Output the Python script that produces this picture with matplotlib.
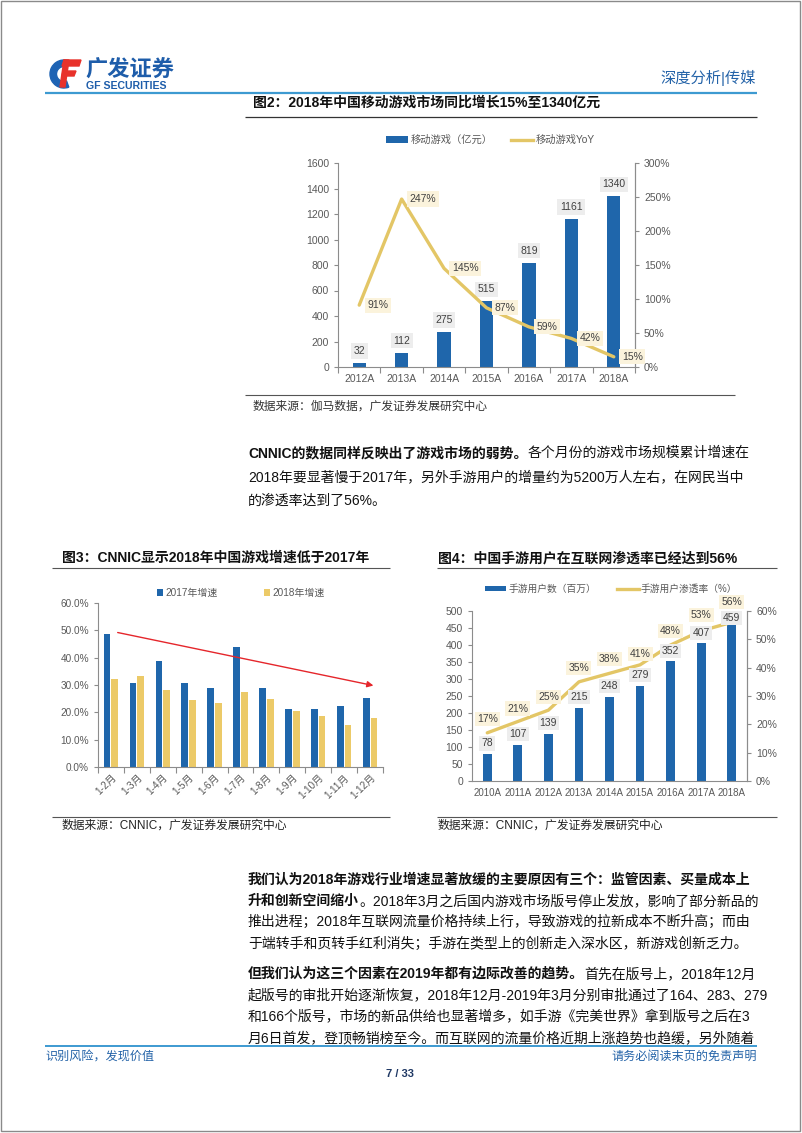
import numpy as np
import matplotlib
matplotlib.use('Agg')
import matplotlib.pyplot as plt
from matplotlib.patches import Rectangle, Patch, Polygon, Wedge
from matplotlib.lines import Line2D
from matplotlib.ticker import FuncFormatter

# ---------------- data ----------------
years1 = ['2012A', '2013A', '2014A', '2015A', '2016A', '2017A', '2018A']
mobile_rev = [32, 112, 275, 515, 819, 1161, 1340]
mobile_yoy = [91, 247, 145, 87, 59, 42, 15]

months3 = ['1-2月', '1-3月', '1-4月', '1-5月', '1-6月', '1-7月', '1-8月', '1-9月', '1-10月', '1-11月', '1-12月']
growth2017 = [48.6, 30.6, 38.9, 30.9, 28.8, 44.0, 28.8, 21.4, 21.2, 22.2, 25.1]
growth2018 = [32.2, 33.3, 28.0, 24.6, 23.3, 27.6, 24.7, 20.6, 18.6, 15.2, 17.8]
trend_start = (0.26, 49.2)
trend_end = (10.13, 29.8)

years4 = ['2010A', '2011A', '2012A', '2013A', '2014A', '2015A', '2016A', '2017A', '2018A']
users = [78, 107, 139, 215, 248, 279, 352, 407, 459]
penetration = [17, 21, 25, 35, 38, 41, 48, 53, 56]

# label offsets (pixels above the mark) for chart 4
user_lbl_off = [11, 11, 11, 11, 11, 11, 10, 10, 7]
pen_lbl_off = [14, 13, 13, 14, 14, 11, 14, 16, 20]

# ---------------- style ----------------
W, H = 802, 1133
FONT = ['Liberation Sans', 'Noto Sans CJK SC', 'DejaVu Sans']
plt.rcParams['font.family'] = FONT
BLUE = '#1F66AB'
GOLD = '#E3C666'
YEL = '#ECCA68'
AXC = '#8C8C8C'
TXC = '#595959'
LBL = '#404040'
HDR_BLUE = '#3D9AD1'
TXT_BLUE = '#2463A8'

fig = plt.figure(figsize=(W / 100, H / 100), dpi=100)
bg = fig.add_axes([0, 0, 1, 1])
bg.set_xlim(0, W)
bg.set_ylim(H, 0)
bg.axis('off')


def px_axes(x0, y0, x1, y1):
    return fig.add_axes([x0 / W, 1 - y1 / H, (x1 - x0) / W, (y1 - y0) / H])


def hline(x0, x1, y, color='#404040', lw=0.8):
    bg.plot([x0, x1], [y, y], color=color, lw=lw, solid_capstyle='butt')


def style(ax, show=('left', 'bottom'), size=7.5):
    for s in ax.spines:
        ax.spines[s].set_visible(s in show)
        ax.spines[s].set_color(AXC)
        ax.spines[s].set_linewidth(0.8)
    ax.tick_params(axis='both', which='both', colors=AXC, labelcolor=TXC,
                   labelsize=size, length=3, width=0.8, direction='out')
    ax.patch.set_alpha(0)


renderer = fig.canvas.get_renderer()


def rich_line(x, y, segs, size=10, color='#111111'):
    cx = x
    for txt, bold in segs:
        t = bg.text(cx, y, txt, fontsize=size, fontweight='bold' if bold else 'normal',
                    ha='left', va='center', color=color)
        bb = t.get_window_extent(renderer)
        cx += bb.width


# ---------------- page frame / header ----------------
bg.add_patch(Rectangle((0.8, 0.8), W - 2.6, H - 2.6, fill=False, ec='#8A8A8A', lw=1))

# logo icon
bg.add_patch(Wedge((64, 74), 14, 70, 290, width=6.5, color='#1E63B4'))
bg.add_patch(Polygon([[64, 60], [81, 60], [79, 66], [62, 66]], color='#E8322B'))
bg.add_patch(Polygon([[63, 71], [76, 71], [74, 76], [62, 76]], color='#E8322B'))
bg.add_patch(Polygon([[64, 60], [69, 60], [65, 87], [60, 87]], color='#E8322B'))
bg.text(85, 71, '广发证券', fontsize=16, fontweight='bold', color='#1E5DAA', ha='left', va='center')
bg.text(86, 86, 'GF SECURITIES', fontsize=7.6, fontweight='bold', color='#1E5DAA', ha='left', va='center')
bg.text(756, 78, '深度分析|传媒', fontsize=11, color=TXT_BLUE, ha='right', va='center')
hline(45, 757, 93, color=HDR_BLUE, lw=1.6)

# ---------------- chart 1 ----------------
bg.text(253, 103, '图2：2018年中国移动游戏市场同比增长15%至1340亿元', fontsize=10,
        fontweight='bold', ha='left', va='center', color='#111111')
hline(245, 757, 117, color='#333333', lw=0.9)

ax1 = px_axes(338, 163, 635, 367)
x1 = np.arange(len(years1))
ax1.bar(x1, mobile_rev, width=0.31, color=BLUE, zorder=2)
ax1.set_xlim(-0.5, len(years1) - 0.5)
ax1.set_ylim(0, 1600)
ax1.set_yticks(range(0, 1601, 200))
style(ax1, show=('left', 'bottom', 'right'))
ax1.set_xticks(x1)
ax1.set_xticklabels(years1)
ax1.set_xticks(np.arange(-0.5, len(years1)), minor=True)
ax1.tick_params(axis='x', which='major', length=0, pad=5)
ax1.tick_params(axis='x', which='minor', length=4)
for xi, v in zip(x1, mobile_rev):
    ax1.annotate(str(v), (xi, v), xytext=(0, 12), textcoords='offset pixels', ha='center',
                 va='center', fontsize=7.5, color=LBL, zorder=5,
                 bbox=dict(boxstyle='square,pad=0.25', fc='#EDEDED', ec='none'))

ax1b = ax1.twinx()
ax1b.plot(x1, mobile_yoy, color=GOLD, lw=2.4, solid_capstyle='round', zorder=3)
ax1b.set_ylim(0, 300)
ax1b.set_yticks(range(0, 301, 50))
ax1b.yaxis.set_major_formatter(FuncFormatter(lambda v, p: f'{v:.0f}%'))
style(ax1b, show=('right',))
for xi, v in zip(x1, mobile_yoy):
    ax1b.annotate(f'{v}%', (xi, v), xytext=(8, 0), textcoords='offset pixels', ha='left',
                  va='center', fontsize=7.5, color=LBL, zorder=6,
                  bbox=dict(boxstyle='square,pad=0.25', fc='#FBF3DC', ec='none'))

h1 = [Patch(facecolor=BLUE), Line2D([0], [0], color=GOLD, lw=2.4)]
ax1b.legend(h1, ['移动游戏（亿元）', '移动游戏YoY'], loc='center', bbox_to_anchor=(490 / W, 1 - 140 / H),
            bbox_transform=fig.transFigure, ncol=2, frameon=False, fontsize=7.4,
            handlelength=2.2, handleheight=0.55, handletextpad=0.2, columnspacing=1.8,
            labelcolor=TXC)

hline(245, 735, 395, color='#555555', lw=0.8)
bg.text(253, 407, '数据来源：伽马数据，广发证券发展研究中心', fontsize=8.5, color='#333333',
        ha='left', va='center')

# ---------------- paragraph 1 ----------------
rich_line(248, 453, [('CNNIC的数据同样反映出了游戏市场的弱势。', True), ('各个月份的游戏市场规模累计增速在', False)])
rich_line(248, 477, [('2018年要显著慢于2017年，另外手游用户的增量约为5200万人左右，在网民当中', False)])
rich_line(248, 501, [('的渗透率达到了56%。', False)])

# ---------------- chart 3 ----------------
bg.text(62, 558, '图3：CNNIC显示2018年中国游戏增速低于2017年', fontsize=10, fontweight='bold',
        ha='left', va='center', color='#111111')
hline(52, 390, 568, color='#555555', lw=0.8)

ax3 = px_axes(98, 603, 383, 767)
x3 = np.arange(len(months3))
ax3.bar(x3 - 0.15, growth2017, width=0.26, color=BLUE, zorder=2)
ax3.bar(x3 + 0.15, growth2018, width=0.26, color=YEL, zorder=2)
ax3.set_xlim(-0.5, len(months3) - 0.5)
ax3.set_ylim(0, 60)
ax3.set_yticks(range(0, 61, 10))
ax3.yaxis.set_major_formatter(FuncFormatter(lambda v, p: f'{v:.1f}%'))
style(ax3, size=7.2)
ax3.set_xticks(x3)
ax3.set_xticklabels(months3, rotation=45, ha='right', va='top', rotation_mode='anchor')
ax3.set_xticks(np.arange(-0.5, len(months3)), minor=True)
ax3.tick_params(axis='x', which='major', length=0, pad=4)
ax3.tick_params(axis='x', which='minor', length=4)
ax3.annotate('', xy=trend_end, xytext=trend_start,
             arrowprops=dict(arrowstyle='-|>', color='#E5262B', lw=1.0, mutation_scale=9,
                             shrinkA=0, shrinkB=0), zorder=6)
h3 = [Patch(facecolor=BLUE), Patch(facecolor=YEL)]
ax3.legend(h3, ['2017年增速', '2018年增速'], loc='center', bbox_to_anchor=(241 / W, 1 - 593 / H),
           bbox_transform=fig.transFigure, ncol=2, frameon=False, fontsize=7.2,
           handlelength=0.6, handleheight=0.6, handletextpad=0.25, columnspacing=4.6,
           labelcolor=TXC)
hline(52, 390, 817, color='#555555', lw=0.8)
bg.text(62, 826, '数据来源：CNNIC，广发证券发展研究中心', fontsize=8.5, color='#222222',
        ha='left', va='center')

# ---------------- chart 4 ----------------
bg.text(438, 558, '图4：中国手游用户在互联网渗透率已经达到56%', fontsize=10, fontweight='bold',
        ha='left', va='center', color='#111111')
hline(437, 777, 568, color='#555555', lw=0.8)

ax4 = px_axes(472, 611, 747, 781)
x4 = np.arange(len(years4))
ax4.bar(x4, users, width=0.29, color=BLUE, zorder=2)
ax4.set_xlim(-0.5, len(years4) - 0.5)
ax4.set_ylim(0, 500)
ax4.set_yticks(range(0, 501, 50))
style(ax4, show=('left', 'bottom', 'right'), size=7.5)
ax4.set_xticks(x4)
ax4.set_xticklabels(years4, fontsize=7.0)
ax4.tick_params(axis='x', length=0, pad=5)

ax4b = ax4.twinx()
ax4b.plot(x4, penetration, color=GOLD, lw=2.4, solid_capstyle='round', zorder=3)
ax4b.set_ylim(0, 60)
ax4b.set_yticks(range(0, 61, 10))
ax4b.yaxis.set_major_formatter(FuncFormatter(lambda v, p: f'{v:.0f}%'))
style(ax4b, show=('right',), size=7.5)
# bar value labels drawn on the top axes so their boxes sit over the line
for xi, v, off in zip(x4, users, user_lbl_off):
    ax4b.annotate(str(v), (xi, v), xycoords=ax4.transData, xytext=(0, off),
                  textcoords='offset pixels', ha='center', va='center', fontsize=7.5,
                  color=LBL, zorder=5,
                  bbox=dict(boxstyle='square,pad=0.2', fc='#EDEDED', ec='none'))
for xi, v, off in zip(x4, penetration, pen_lbl_off):
    ax4b.annotate(f'{v}%', (xi, v), xytext=(0, off), textcoords='offset pixels', ha='center',
                  va='center', fontsize=7.5, color=LBL, zorder=6,
                  bbox=dict(boxstyle='square,pad=0.2', fc='#FBF3DC', ec='none'))
h4 = [Patch(facecolor=BLUE), Line2D([0], [0], color=GOLD, lw=2.4)]
ax4b.legend(h4, ['手游用户数（百万）', '手游用户渗透率（%）'], loc='center',
            bbox_to_anchor=(611 / W, 1 - 589 / H), bbox_transform=fig.transFigure, ncol=2,
            frameon=False, fontsize=7.0, handlelength=2.2, handleheight=0.55,
            handletextpad=0.2, columnspacing=2.2, labelcolor=TXC)
hline(437, 777, 817, color='#555555', lw=0.8)
bg.text(438, 826, '数据来源：CNNIC，广发证券发展研究中心', fontsize=8.5, color='#222222',
        ha='left', va='center')

# ---------------- paragraphs 2 & 3 ----------------
rich_line(248, 880, [('我们认为2018年游戏行业增速显著放缓的主要原因有三个：监管因素、买量成本上', True)])
rich_line(248, 901, [('升和创新空间缩小', True), ('。2018年3月之后国内游戏市场版号停止发放，影响了部分新品的', False)])
rich_line(248, 922, [('推出进程；2018年互联网流量价格持续上行，导致游戏的拉新成本不断升高；而由', False)])
rich_line(248, 944, [('于端转手和页转手红利消失；手游在类型上的创新走入深水区，新游戏创新乏力。', False)])
rich_line(248, 974, [('但我们认为这三个因素在2019年都有边际改善的趋势。', True), ('首先在版号上，2018年12月', False)])
rich_line(248, 995, [('起版号的审批开始逐渐恢复，2018年12月-2019年3月分别审批通过了164、283、279', False)])
rich_line(248, 1016, [('和166个版号，市场的新品供给也显著增多，如手游《完美世界》拿到版号之后在3', False)])
rich_line(248, 1038, [('月6日首发，登顶畅销榜至今。而互联网的流量价格近期上涨趋势也趋缓，另外随着', False)])

# ---------------- footer ----------------
hline(45, 757, 1046, color=HDR_BLUE, lw=1.4)
bg.text(45, 1057, '识别风险，发现价值', fontsize=8.7, color=TXT_BLUE, ha='left', va='center')
bg.text(757, 1057, '请务必阅读末页的免责声明', fontsize=8.7, color=TXT_BLUE, ha='right', va='center')
bg.text(400, 1074, '7 / 33', fontsize=8, fontweight='bold', color='#1F3864', ha='center', va='center')

fig.savefig('out.png', dpi=100)
